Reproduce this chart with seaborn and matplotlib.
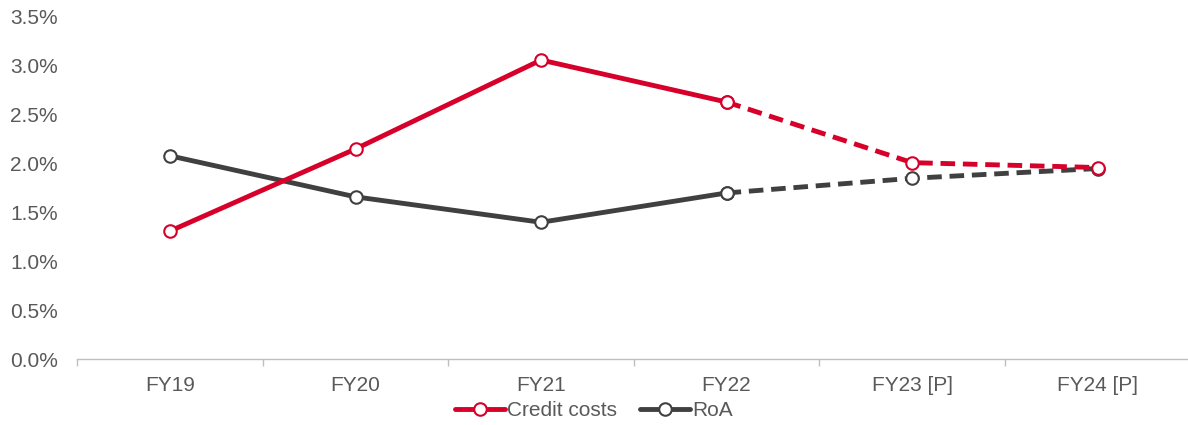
import numpy as np
import pandas as pd
import seaborn as sns
import matplotlib
matplotlib.use("Agg")
import matplotlib.pyplot as plt
from matplotlib.lines import Line2D
from matplotlib.ticker import FuncFormatter, FixedLocator

# Data (percent)
years = ["FY19", "FY20", "FY21", "FY22", "FY23 [P]", "FY24 [P]"]
credit_costs = [1.31, 2.15, 3.06, 2.63, 2.01, 1.96]
roa = [2.08, 1.66, 1.40, 1.70, 1.85, 1.95]
n_actual = 4  # FY19-FY22 actual, the rest projected

RED = "#D6002A"
GREY = "#404040"
TEXT = "#595959"

sns.set_theme(style="white")
plt.rcParams["font.family"] = ["Liberation Sans", "DejaVu Sans"]

df = pd.DataFrame({
    "pos": np.arange(len(years)),
    "year": years,
    "Credit costs": credit_costs,
    "RoA": roa,
})
actual = df.iloc[:n_actual]
proj = df.iloc[n_actual - 1:]

fig = plt.figure(figsize=(11.88, 4.25), dpi=100)
ax = fig.add_axes([0.065, 0.155, 0.937, 0.805])

lw = 3.5
mk = dict(marker="o", markersize=9, markerfacecolor="white", markeredgewidth=1.5)
fs = 15

for col, color, z in [("RoA", GREY, 2), ("Credit costs", RED, 3)]:
    sns.lineplot(data=proj, x="pos", y=col, ax=ax, color=color, lw=lw,
                 linestyle=(0, (3.0, 1.6)), zorder=z, **mk, markeredgecolor=color)
    sns.lineplot(data=actual, x="pos", y=col, ax=ax, color=color, lw=lw,
                 zorder=z + 1, **mk, markeredgecolor=color)

ax.set_xlim(-0.5, len(years) - 0.5)
ax.set_ylim(0, 3.5)
ax.set_yticks(np.arange(0, 3.51, 0.5))
ax.yaxis.set_major_formatter(FuncFormatter(lambda v, _: f"{v:.1f}%"))
ax.set_xticks(df["pos"])
ax.set_xticklabels(years)
ax.xaxis.set_minor_locator(FixedLocator(np.arange(-0.5, len(years), 1.0)))
ax.set_xlabel("")
ax.set_ylabel("")

for s in ["top", "right", "left"]:
    ax.spines[s].set_visible(False)
ax.spines["bottom"].set_color("#BFBFBF")
ax.spines["bottom"].set_linewidth(1.0)

ax.tick_params(axis="x", which="major", length=0, pad=12, labelsize=fs, labelcolor=TEXT)
ax.tick_params(axis="x", which="minor", length=5, width=1.0, color="#BFBFBF", direction="out", bottom=True)
ax.tick_params(axis="y", length=0, pad=14, labelsize=fs, labelcolor=TEXT)
ax.grid(False)

handles = [
    Line2D([], [], color=RED, lw=lw, **mk, markeredgecolor=RED),
    Line2D([], [], color=GREY, lw=lw, **mk, markeredgecolor=GREY),
]
leg = fig.legend(handles, ["Credit costs", "RoA"], loc="center",
                 bbox_to_anchor=(0.5, 0.034), ncol=2, frameon=False,
                 fontsize=fs, handlelength=2.4, handletextpad=0.1,
                 columnspacing=1.1, borderpad=0)
for t in leg.get_texts():
    t.set_color(TEXT)

fig.savefig("out.png", dpi=100)
